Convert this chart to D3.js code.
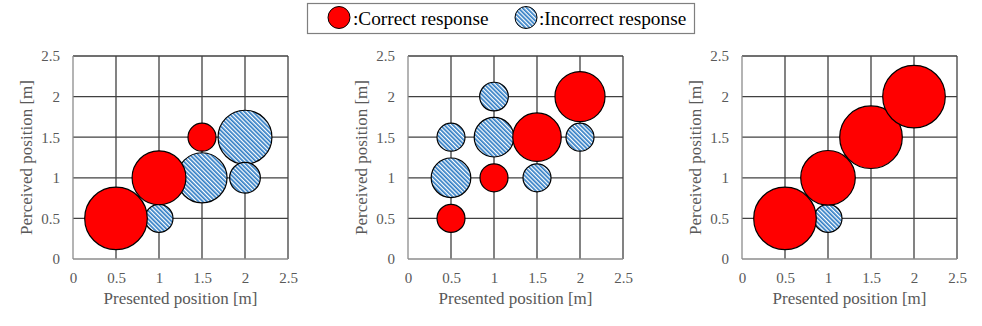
<!DOCTYPE html>
<html>
<head>
<meta charset="utf-8">
<script src="https://cdn.jsdelivr.net/npm/d3@7"></script>
<style>
  html, body { margin: 0; padding: 0; background: #fff; }
  svg { display: block; }
  svg text { font-family: "Liberation Serif", "Times New Roman", serif !important; }
</style>
</head>
<body>
<script>
// Response counts per (presented, perceived) position pair, one list per panel.
const tickValues = [0, 0.5, 1, 1.5, 2, 2.5];
const tickLabels = ["0", "0.5", "1", "1.5", "2", "2.5"];

const panel1Correct = [
  { presented: 0.5, perceived: 0.5, count: 5 },
  { presented: 1.0, perceived: 1.0, count: 3.7 },
  { presented: 1.5, perceived: 1.5, count: 1 }
];
const panel1Incorrect = [
  { presented: 1.0, perceived: 0.5, count: 1 },
  { presented: 1.5, perceived: 1.0, count: 3.2 },
  { presented: 2.0, perceived: 1.5, count: 3.7 },
  { presented: 2.0, perceived: 1.0, count: 1.2 }
];

const panel2Correct = [
  { presented: 0.5, perceived: 0.5, count: 1 },
  { presented: 1.0, perceived: 1.0, count: 1 },
  { presented: 1.5, perceived: 1.5, count: 3 },
  { presented: 2.0, perceived: 2.0, count: 3.2 }
];
const panel2Incorrect = [
  { presented: 0.5, perceived: 1.5, count: 1 },
  { presented: 0.5, perceived: 1.0, count: 2 },
  { presented: 1.0, perceived: 2.0, count: 1.05 },
  { presented: 1.0, perceived: 1.5, count: 2 },
  { presented: 1.5, perceived: 1.0, count: 1 },
  { presented: 2.0, perceived: 1.5, count: 1 }
];

const panel3Correct = [
  { presented: 0.5, perceived: 0.5, count: 5 },
  { presented: 1.0, perceived: 1.0, count: 3.8 },
  { presented: 1.5, perceived: 1.5, count: 5 },
  { presented: 2.0, perceived: 2.0, count: 5 }
];
const panel3Incorrect = [
  { presented: 1.0, perceived: 0.5, count: 1 }
];

const panels = [
  { left: 73,  correct: panel1Correct, incorrect: panel1Incorrect },
  { left: 408, correct: panel2Correct, incorrect: panel2Incorrect },
  { left: 742, correct: panel3Correct, incorrect: panel3Incorrect }
];

const W = 982, H = 326;
const plotW = 215, plotTop = 56, plotBottom = 259;
const textColor = "#595959";
const redFill = "#ff0000";
const serif = '"Liberation Serif", "Times New Roman", serif';

const svg = d3.select("body").append("svg")
  .attr("width", W).attr("height", H);

// Diagonal stripe fill for incorrect responses
const defs = svg.append("defs");
const pat = defs.append("pattern")
  .attr("id", "hatch")
  .attr("patternUnits", "userSpaceOnUse")
  .attr("width", 3).attr("height", 3)
  .attr("patternTransform", "rotate(-45)");
pat.append("rect").attr("width", 3).attr("height", 3).attr("fill", "#ffffff");
pat.append("rect").attr("width", 1.7).attr("height", 3).attr("fill", "#2f7cc4");

// Bubble area proportional to count
const size = d3.scaleSqrt().domain([0, 5]).range([0, 31.3]);

panels.forEach(p => {
  const x = d3.scaleLinear().domain([0, 2.5]).range([p.left, p.left + plotW]);
  const y = d3.scaleLinear().domain([0, 2.5]).range([plotBottom, plotTop]);
  const g = svg.append("g");

  // grid
  g.selectAll("line.vgrid").data(tickValues.slice(1)).join("line")
    .attr("x1", d => x(d)).attr("x2", d => x(d))
    .attr("y1", plotTop).attr("y2", plotBottom)
    .attr("stroke", "#404040").attr("stroke-width", 1.3);
  g.selectAll("line.hgrid").data(tickValues.slice(1)).join("line")
    .attr("x1", p.left).attr("x2", p.left + plotW)
    .attr("y1", d => y(d)).attr("y2", d => y(d))
    .attr("stroke", "#404040").attr("stroke-width", 1.3);

  // axes lines
  g.append("line").attr("x1", p.left).attr("x2", p.left)
    .attr("y1", plotTop).attr("y2", plotBottom)
    .attr("stroke", "#8c8c8c").attr("stroke-width", 1.3);
  g.append("line").attr("x1", p.left).attr("x2", p.left + plotW)
    .attr("y1", plotBottom).attr("y2", plotBottom)
    .attr("stroke", "#8c8c8c").attr("stroke-width", 1.3);

  // tick labels
  const xAxis = d3.axisBottom(x).tickValues(tickValues)
    .tickFormat((d, i) => tickLabels[i]).tickSize(0).tickPadding(13);
  const xa = g.append("g").attr("transform", `translate(0,${plotBottom})`).call(xAxis);
  xa.select(".domain").remove();
  xa.selectAll("text").attr("fill", textColor)
    .style("font-family", serif).style("font-size", "15px");

  const yAxis = d3.axisLeft(y).tickValues(tickValues)
    .tickFormat((d, i) => tickLabels[i]).tickSize(0).tickPadding(13);
  const ya = g.append("g").attr("transform", `translate(${p.left},0)`).call(yAxis);
  ya.select(".domain").remove();
  ya.selectAll("text").attr("fill", textColor)
    .style("font-family", serif).style("font-size", "15px");

  // axis titles
  g.append("text")
    .attr("x", p.left + plotW / 2).attr("y", 304)
    .attr("text-anchor", "middle").attr("fill", textColor)
    .style("font-family", serif).style("font-size", "17px")
    .text("Presented position [m]");
  g.append("text")
    .attr("transform", `translate(${p.left - 41},${(plotTop + plotBottom) / 2}) rotate(-90)`)
    .attr("text-anchor", "middle").attr("fill", textColor)
    .style("font-family", serif).style("font-size", "17px")
    .text("Perceived position [m]");

  // bubbles: incorrect first, correct on top
  g.selectAll("circle.inc").data(p.incorrect).join("circle")
    .attr("cx", d => x(d.presented)).attr("cy", d => y(d.perceived))
    .attr("r", d => size(d.count))
    .attr("fill", "url(#hatch)").attr("stroke", "#000").attr("stroke-width", 1.2);
  g.selectAll("circle.cor").data(p.correct).join("circle")
    .attr("cx", d => x(d.presented)).attr("cy", d => y(d.perceived))
    .attr("r", d => size(d.count))
    .attr("fill", redFill).attr("stroke", "#000").attr("stroke-width", 1.2);
});

// legend
const lg = svg.append("g");
lg.append("rect").attr("x", 307.5).attr("y", 3.5).attr("width", 387).attr("height", 30)
  .attr("fill", "#fff").attr("stroke", "#7f7f7f").attr("stroke-width", 1.2);
const legendItems = [
  { cx: 339, fill: redFill, label: ":Correct response", tx: 353 },
  { cx: 526, fill: "url(#hatch)", label: ":Incorrect response", tx: 539 }
];
legendItems.forEach(it => {
  lg.append("circle").attr("cx", it.cx).attr("cy", 17.5).attr("r", 11)
    .attr("fill", it.fill).attr("stroke", "#000").attr("stroke-width", 1);
  lg.append("text").attr("x", it.tx).attr("y", 25)
    .attr("fill", "#000").style("font-family", serif).style("font-size", "19.3px")
    .text(it.label);
});
</script>
</body>
</html>
